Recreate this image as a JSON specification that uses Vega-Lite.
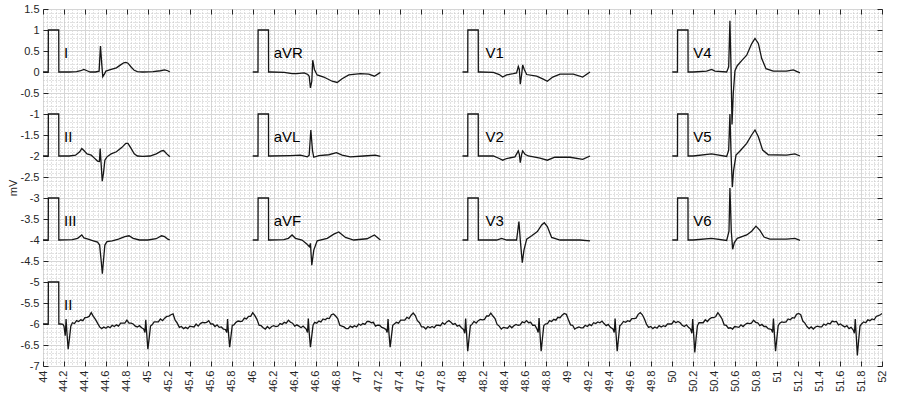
{
"$schema": "https://vega.github.io/schema/vega-lite/v6.json",
"autosize": {"type": "none"},
"padding": {"left": 43, "top": 9, "right": 18, "bottom": 31},
"width": 839,
"height": 357,
"background": "white",
"config": {"font": "Liberation Sans", "view": {"stroke": "#262626", "strokeWidth": 1}},
"datasets": {
"lab": [
{"x":44.2,"y":0.34,"t":"I"},{"x":44.2,"y":-1.66,"t":"II"},{"x":44.2,"y":-3.66,"t":"III"},
{"x":46.2,"y":0.34,"t":"aVR"},{"x":46.2,"y":-1.66,"t":"aVL"},{"x":46.2,"y":-3.66,"t":"aVF"},
{"x":48.22,"y":0.34,"t":"V1"},{"x":48.22,"y":-1.66,"t":"V2"},{"x":48.22,"y":-3.66,"t":"V3"},
{"x":50.2,"y":0.34,"t":"V4"},{"x":50.2,"y":-1.66,"t":"V5"},{"x":50.2,"y":-3.66,"t":"V6"},
{"x":44.2,"y":-5.66,"t":"II"}
],
"ecg": [
{"x":44,"y":0,"s":"I"},{"x":44.05,"y":0,"s":"I"},{"x":44.051,"y":1,"s":"I"},{"x":44.15,"y":1,"s":"I"},{"x":44.151,"y":0,"s":"I"},{"x":44.25,"y":0,"s":"I"},{"x":44.32,"y":0.01,"s":"I"},{"x":44.36,"y":0.03,"s":"I"},{"x":44.39,"y":0.06,"s":"I"},{"x":44.42,"y":0.03,"s":"I"},{"x":44.45,"y":0,"s":"I"},{"x":44.5,"y":0,"s":"I"},{"x":44.535,"y":0.02,"s":"I"},{"x":44.548,"y":0.62,"s":"I"},{"x":44.56,"y":0.2,"s":"I"},{"x":44.57,"y":-0.11,"s":"I"},{"x":44.585,"y":-0.05,"s":"I"},{"x":44.6,"y":0.02,"s":"I"},{"x":44.65,"y":0.06,"s":"I"},{"x":44.7,"y":0.1,"s":"I"},{"x":44.74,"y":0.17,"s":"I"},{"x":44.77,"y":0.22,"s":"I"},{"x":44.79,"y":0.23,"s":"I"},{"x":44.81,"y":0.21,"s":"I"},{"x":44.84,"y":0.12,"s":"I"},{"x":44.87,"y":0.04,"s":"I"},{"x":44.9,"y":0.01,"s":"I"},{"x":44.95,"y":0,"s":"I"},{"x":45.05,"y":0.01,"s":"I"},{"x":45.12,"y":0.03,"s":"I"},{"x":45.16,"y":0.05,"s":"I"},{"x":45.19,"y":0.03,"s":"I"},{"x":45.21,"y":0,"s":"I"},

{"x":44,"y":-2,"s":"II"},{"x":44.05,"y":-2,"s":"II"},{"x":44.051,"y":-1,"s":"II"},{"x":44.15,"y":-1,"s":"II"},{"x":44.151,"y":-2,"s":"II"},{"x":44.25,"y":-2,"s":"II"},{"x":44.31,"y":-1.98,"s":"II"},{"x":44.35,"y":-1.9,"s":"II"},{"x":44.37,"y":-1.82,"s":"II"},{"x":44.39,"y":-1.87,"s":"II"},{"x":44.42,"y":-1.95,"s":"II"},{"x":44.46,"y":-1.98,"s":"II"},{"x":44.49,"y":-2.05,"s":"II"},{"x":44.52,"y":-2.12,"s":"II"},{"x":44.538,"y":-2.13,"s":"II"},{"x":44.545,"y":-1.82,"s":"II"},{"x":44.552,"y":-2.1,"s":"II"},{"x":44.565,"y":-2.6,"s":"II"},{"x":44.577,"y":-2.4,"s":"II"},{"x":44.59,"y":-2.1,"s":"II"},{"x":44.61,"y":-2.02,"s":"II"},{"x":44.65,"y":-1.95,"s":"II"},{"x":44.7,"y":-1.9,"s":"II"},{"x":44.75,"y":-1.8,"s":"II"},{"x":44.79,"y":-1.7,"s":"II"},{"x":44.81,"y":-1.7,"s":"II"},{"x":44.84,"y":-1.82,"s":"II"},{"x":44.87,"y":-1.95,"s":"II"},{"x":44.9,"y":-2,"s":"II"},{"x":44.95,"y":-2.01,"s":"II"},{"x":45.02,"y":-2,"s":"II"},{"x":45.08,"y":-1.95,"s":"II"},{"x":45.13,"y":-1.88,"s":"II"},{"x":45.15,"y":-1.87,"s":"II"},{"x":45.18,"y":-1.95,"s":"II"},{"x":45.21,"y":-2.02,"s":"II"},

{"x":44,"y":-4,"s":"III"},{"x":44.05,"y":-4,"s":"III"},{"x":44.051,"y":-3,"s":"III"},{"x":44.15,"y":-3,"s":"III"},{"x":44.151,"y":-4,"s":"III"},{"x":44.28,"y":-3.99,"s":"III"},{"x":44.33,"y":-3.96,"s":"III"},{"x":44.37,"y":-3.88,"s":"III"},{"x":44.39,"y":-3.95,"s":"III"},{"x":44.43,"y":-3.98,"s":"III"},{"x":44.48,"y":-4.02,"s":"III"},{"x":44.52,"y":-4.05,"s":"III"},{"x":44.54,"y":-4.12,"s":"III"},{"x":44.555,"y":-4.5,"s":"III"},{"x":44.566,"y":-4.8,"s":"III"},{"x":44.578,"y":-4.45,"s":"III"},{"x":44.59,"y":-4.12,"s":"III"},{"x":44.61,"y":-4.04,"s":"III"},{"x":44.66,"y":-4.02,"s":"III"},{"x":44.72,"y":-3.98,"s":"III"},{"x":44.78,"y":-3.92,"s":"III"},{"x":44.82,"y":-3.9,"s":"III"},{"x":44.86,"y":-3.96,"s":"III"},{"x":44.92,"y":-4,"s":"III"},{"x":45,"y":-4,"s":"III"},{"x":45.08,"y":-3.97,"s":"III"},{"x":45.13,"y":-3.9,"s":"III"},{"x":45.16,"y":-3.92,"s":"III"},{"x":45.19,"y":-3.98,"s":"III"},{"x":45.21,"y":-4,"s":"III"},

{"x":46,"y":0,"s":"aVR"},{"x":46.05,"y":0,"s":"aVR"},{"x":46.051,"y":1,"s":"aVR"},{"x":46.15,"y":1,"s":"aVR"},{"x":46.151,"y":0,"s":"aVR"},{"x":46.17,"y":0,"s":"aVR"},{"x":46.3,"y":-0.01,"s":"aVR"},{"x":46.375,"y":-0.04,"s":"aVR"},{"x":46.42,"y":-0.04,"s":"aVR"},{"x":46.49,"y":-0.02,"s":"aVR"},{"x":46.525,"y":-0.06,"s":"aVR"},{"x":46.538,"y":-0.1,"s":"aVR"},{"x":46.55,"y":-0.38,"s":"aVR"},{"x":46.563,"y":-0.22,"s":"aVR"},{"x":46.572,"y":0.28,"s":"aVR"},{"x":46.588,"y":0.06,"s":"aVR"},{"x":46.614,"y":-0.07,"s":"aVR"},{"x":46.677,"y":-0.12,"s":"aVR"},{"x":46.757,"y":-0.22,"s":"aVR"},{"x":46.805,"y":-0.25,"s":"aVR"},{"x":46.852,"y":-0.16,"s":"aVR"},{"x":46.916,"y":-0.07,"s":"aVR"},{"x":47.027,"y":-0.04,"s":"aVR"},{"x":47.106,"y":-0.05,"s":"aVR"},{"x":47.16,"y":-0.1,"s":"aVR"},{"x":47.217,"y":-0.01,"s":"aVR"},

{"x":46,"y":-2,"s":"aVL"},{"x":46.05,"y":-2,"s":"aVL"},{"x":46.051,"y":-1,"s":"aVL"},{"x":46.15,"y":-1,"s":"aVL"},{"x":46.151,"y":-2,"s":"aVL"},{"x":46.17,"y":-2,"s":"aVL"},{"x":46.36,"y":-1.99,"s":"aVL"},{"x":46.455,"y":-1.98,"s":"aVL"},{"x":46.52,"y":-2.02,"s":"aVL"},{"x":46.538,"y":-1.98,"s":"aVL"},{"x":46.554,"y":-1.38,"s":"aVL"},{"x":46.57,"y":-1.88,"s":"aVL"},{"x":46.582,"y":-2.03,"s":"aVL"},{"x":46.63,"y":-1.99,"s":"aVL"},{"x":46.725,"y":-1.97,"s":"aVL"},{"x":46.798,"y":-1.92,"s":"aVL"},{"x":46.852,"y":-1.98,"s":"aVL"},{"x":46.93,"y":-2.02,"s":"aVL"},{"x":47.058,"y":-2,"s":"aVL"},{"x":47.169,"y":-1.98,"s":"aVL"},{"x":47.217,"y":-2.01,"s":"aVL"},

{"x":46,"y":-4,"s":"aVF"},{"x":46.05,"y":-4,"s":"aVF"},{"x":46.051,"y":-3,"s":"aVF"},{"x":46.15,"y":-3,"s":"aVF"},{"x":46.151,"y":-4,"s":"aVF"},{"x":46.17,"y":-4,"s":"aVF"},{"x":46.296,"y":-3.99,"s":"aVF"},{"x":46.34,"y":-3.96,"s":"aVF"},{"x":46.375,"y":-3.88,"s":"aVF"},{"x":46.407,"y":-3.96,"s":"aVF"},{"x":46.47,"y":-4,"s":"aVF"},{"x":46.518,"y":-4.1,"s":"aVF"},{"x":46.54,"y":-4.16,"s":"aVF"},{"x":46.55,"y":-4.08,"s":"aVF"},{"x":46.563,"y":-4.6,"s":"aVF"},{"x":46.582,"y":-4.24,"s":"aVF"},{"x":46.614,"y":-4.02,"s":"aVF"},{"x":46.71,"y":-3.96,"s":"aVF"},{"x":46.773,"y":-3.86,"s":"aVF"},{"x":46.82,"y":-3.81,"s":"aVF"},{"x":46.884,"y":-3.94,"s":"aVF"},{"x":46.963,"y":-4,"s":"aVF"},{"x":47.09,"y":-3.97,"s":"aVF"},{"x":47.16,"y":-3.88,"s":"aVF"},{"x":47.217,"y":-4,"s":"aVF"},

{"x":48,"y":0,"s":"V1"},{"x":48.05,"y":0,"s":"V1"},{"x":48.051,"y":1,"s":"V1"},{"x":48.15,"y":1,"s":"V1"},{"x":48.151,"y":0,"s":"V1"},{"x":48.167,"y":0,"s":"V1"},{"x":48.294,"y":-0.01,"s":"V1"},{"x":48.351,"y":-0.06,"s":"V1"},{"x":48.383,"y":-0.12,"s":"V1"},{"x":48.421,"y":-0.07,"s":"V1"},{"x":48.484,"y":-0.04,"s":"V1"},{"x":48.516,"y":-0.02,"s":"V1"},{"x":48.532,"y":0.13,"s":"V1"},{"x":48.542,"y":0.06,"s":"V1"},{"x":48.551,"y":-0.29,"s":"V1"},{"x":48.564,"y":-0.06,"s":"V1"},{"x":48.574,"y":0.17,"s":"V1"},{"x":48.589,"y":0.06,"s":"V1"},{"x":48.612,"y":-0.06,"s":"V1"},{"x":48.707,"y":-0.1,"s":"V1"},{"x":48.77,"y":-0.17,"s":"V1"},{"x":48.809,"y":-0.22,"s":"V1"},{"x":48.86,"y":-0.12,"s":"V1"},{"x":48.93,"y":-0.05,"s":"V1"},{"x":49.057,"y":-0.05,"s":"V1"},{"x":49.146,"y":-0.12,"s":"V1"},{"x":49.216,"y":0,"s":"V1"},

{"x":48,"y":-2,"s":"V2"},{"x":48.05,"y":-2,"s":"V2"},{"x":48.051,"y":-1,"s":"V2"},{"x":48.15,"y":-1,"s":"V2"},{"x":48.151,"y":-2,"s":"V2"},{"x":48.167,"y":-2,"s":"V2"},{"x":48.294,"y":-2,"s":"V2"},{"x":48.351,"y":-2.06,"s":"V2"},{"x":48.383,"y":-2.1,"s":"V2"},{"x":48.421,"y":-2.06,"s":"V2"},{"x":48.5,"y":-2.02,"s":"V2"},{"x":48.532,"y":-1.88,"s":"V2"},{"x":48.542,"y":-1.96,"s":"V2"},{"x":48.551,"y":-2.16,"s":"V2"},{"x":48.564,"y":-1.96,"s":"V2"},{"x":48.574,"y":-1.88,"s":"V2"},{"x":48.596,"y":-1.96,"s":"V2"},{"x":48.628,"y":-2,"s":"V2"},{"x":48.739,"y":-2.05,"s":"V2"},{"x":48.809,"y":-2.1,"s":"V2"},{"x":48.88,"y":-2.03,"s":"V2"},{"x":49.025,"y":-2.03,"s":"V2"},{"x":49.146,"y":-2.08,"s":"V2"},{"x":49.216,"y":-2,"s":"V2"},

{"x":48,"y":-4,"s":"V3"},{"x":48.05,"y":-4,"s":"V3"},{"x":48.051,"y":-3,"s":"V3"},{"x":48.15,"y":-3,"s":"V3"},{"x":48.151,"y":-4,"s":"V3"},{"x":48.167,"y":-4,"s":"V3"},{"x":48.326,"y":-4,"s":"V3"},{"x":48.373,"y":-3.96,"s":"V3"},{"x":48.421,"y":-4,"s":"V3"},{"x":48.516,"y":-4,"s":"V3"},{"x":48.538,"y":-3.56,"s":"V3"},{"x":48.551,"y":-4,"s":"V3"},{"x":48.57,"y":-4.54,"s":"V3"},{"x":48.586,"y":-4.24,"s":"V3"},{"x":48.612,"y":-3.98,"s":"V3"},{"x":48.66,"y":-3.9,"s":"V3"},{"x":48.714,"y":-3.8,"s":"V3"},{"x":48.755,"y":-3.64,"s":"V3"},{"x":48.78,"y":-3.59,"s":"V3"},{"x":48.809,"y":-3.68,"s":"V3"},{"x":48.85,"y":-3.94,"s":"V3"},{"x":48.93,"y":-4,"s":"V3"},{"x":49.12,"y":-4,"s":"V3"},{"x":49.216,"y":-4.02,"s":"V3"},

{"x":50,"y":0,"s":"V4"},{"x":50.05,"y":0,"s":"V4"},{"x":50.051,"y":1,"s":"V4"},{"x":50.15,"y":1,"s":"V4"},{"x":50.151,"y":0,"s":"V4"},{"x":50.2,"y":0,"s":"V4"},{"x":50.328,"y":0.02,"s":"V4"},{"x":50.375,"y":0.06,"s":"V4"},{"x":50.407,"y":0.02,"s":"V4"},{"x":50.519,"y":0,"s":"V4"},{"x":50.538,"y":0.12,"s":"V4"},{"x":50.55,"y":1.22,"s":"V4"},{"x":50.56,"y":0.12,"s":"V4"},{"x":50.57,"y":-1.25,"s":"V4"},{"x":50.582,"y":-0.5,"s":"V4"},{"x":50.598,"y":0.03,"s":"V4"},{"x":50.62,"y":0.15,"s":"V4"},{"x":50.662,"y":0.27,"s":"V4"},{"x":50.71,"y":0.4,"s":"V4"},{"x":50.757,"y":0.67,"s":"V4"},{"x":50.789,"y":0.8,"s":"V4"},{"x":50.821,"y":0.68,"s":"V4"},{"x":50.853,"y":0.32,"s":"V4"},{"x":50.894,"y":0.08,"s":"V4"},{"x":50.963,"y":0.02,"s":"V4"},{"x":51.09,"y":0.02,"s":"V4"},{"x":51.154,"y":0.05,"s":"V4"},{"x":51.218,"y":-0.02,"s":"V4"},

{"x":50,"y":-2,"s":"V5"},{"x":50.05,"y":-2,"s":"V5"},{"x":50.051,"y":-1,"s":"V5"},{"x":50.15,"y":-1,"s":"V5"},{"x":50.151,"y":-2,"s":"V5"},{"x":50.2,"y":-2,"s":"V5"},{"x":50.375,"y":-1.95,"s":"V5"},{"x":50.519,"y":-2.01,"s":"V5"},{"x":50.538,"y":-1.86,"s":"V5"},{"x":50.55,"y":-1,"s":"V5"},{"x":50.56,"y":-1.9,"s":"V5"},{"x":50.573,"y":-2.74,"s":"V5"},{"x":50.585,"y":-2.34,"s":"V5"},{"x":50.608,"y":-1.98,"s":"V5"},{"x":50.646,"y":-1.88,"s":"V5"},{"x":50.71,"y":-1.7,"s":"V5"},{"x":50.757,"y":-1.5,"s":"V5"},{"x":50.789,"y":-1.38,"s":"V5"},{"x":50.821,"y":-1.54,"s":"V5"},{"x":50.862,"y":-1.86,"s":"V5"},{"x":50.916,"y":-1.97,"s":"V5"},{"x":51.09,"y":-1.98,"s":"V5"},{"x":51.17,"y":-1.95,"s":"V5"},{"x":51.218,"y":-2,"s":"V5"},

{"x":50,"y":-4,"s":"V6"},{"x":50.05,"y":-4,"s":"V6"},{"x":50.051,"y":-3,"s":"V6"},{"x":50.15,"y":-3,"s":"V6"},{"x":50.151,"y":-4,"s":"V6"},{"x":50.2,"y":-4,"s":"V6"},{"x":50.375,"y":-3.96,"s":"V6"},{"x":50.519,"y":-4.01,"s":"V6"},{"x":50.541,"y":-3.79,"s":"V6"},{"x":50.55,"y":-2.76,"s":"V6"},{"x":50.563,"y":-3.79,"s":"V6"},{"x":50.576,"y":-4.22,"s":"V6"},{"x":50.592,"y":-4.06,"s":"V6"},{"x":50.62,"y":-3.96,"s":"V6"},{"x":50.71,"y":-3.88,"s":"V6"},{"x":50.757,"y":-3.79,"s":"V6"},{"x":50.798,"y":-3.67,"s":"V6"},{"x":50.836,"y":-3.77,"s":"V6"},{"x":50.875,"y":-3.93,"s":"V6"},{"x":50.93,"y":-3.98,"s":"V6"},{"x":51.09,"y":-3.98,"s":"V6"},{"x":51.17,"y":-3.96,"s":"V6"},{"x":51.218,"y":-4.01,"s":"V6"},

{"x":44,"y":-6,"s":"R"},{"x":44.05,"y":-6,"s":"R"},{"x":44.051,"y":-5,"s":"R"},{"x":44.15,"y":-5,"s":"R"},{"x":44.151,"y":-6,"s":"R"},{"x":44.17,"y":-6,"s":"R"},{"x":44.19,"y":-6.01,"s":"R"},{"x":44.2,"y":-6.05,"s":"R"},{"x":44.212,"y":-6.28,"s":"R"},{"x":44.22,"y":-5.88,"s":"R"},{"x":44.228,"y":-6.2,"s":"R"},{"x":44.24,"y":-6.6,"s":"R"},{"x":44.252,"y":-6.35,"s":"R"},{"x":44.265,"y":-6.05,"s":"R"},
{"x":44.28,"y":-5.97,"s":"R"},{"x":44.3,"y":-5.99,"s":"R"},{"x":44.32,"y":-5.92,"s":"R"},{"x":44.34,"y":-5.94,"s":"R"},{"x":44.36,"y":-5.9,"s":"R"},{"x":44.38,"y":-5.92,"s":"R"},{"x":44.4,"y":-5.85,"s":"R"},{"x":44.42,"y":-5.84,"s":"R"},{"x":44.44,"y":-5.82,"s":"R"},{"x":44.46,"y":-5.73,"s":"R"},{"x":44.48,"y":-5.82,"s":"R"},{"x":44.5,"y":-5.89,"s":"R"},{"x":44.52,"y":-5.98,"s":"R"},{"x":44.54,"y":-6.07,"s":"R"},{"x":44.56,"y":-6.11,"s":"R"},{"x":44.58,"y":-6.07,"s":"R"},{"x":44.6,"y":-6.1,"s":"R"},{"x":44.62,"y":-6.06,"s":"R"},{"x":44.64,"y":-6.09,"s":"R"},{"x":44.66,"y":-6.03,"s":"R"},{"x":44.68,"y":-6.06,"s":"R"},{"x":44.7,"y":-6.02,"s":"R"},{"x":44.72,"y":-6.05,"s":"R"},{"x":44.74,"y":-5.98,"s":"R"},{"x":44.76,"y":-5.98,"s":"R"},{"x":44.78,"y":-5.98,"s":"R"},{"x":44.8,"y":-5.91,"s":"R"},{"x":44.82,"y":-5.98,"s":"R"},{"x":44.84,"y":-5.98,"s":"R"},{"x":44.86,"y":-6,"s":"R"},{"x":44.88,"y":-6.05,"s":"R"},{"x":44.9,"y":-6.07,"s":"R"},{"x":44.92,"y":-6.04,"s":"R"},{"x":44.94,"y":-6.09,"s":"R"},
{"x":44.96,"y":-6.12,"s":"R"},{"x":44.972,"y":-6.2,"s":"R"},{"x":44.98,"y":-5.9,"s":"R"},{"x":44.988,"y":-6.2,"s":"R"},{"x":45,"y":-6.6,"s":"R"},{"x":45.012,"y":-6.35,"s":"R"},{"x":45.025,"y":-6.05,"s":"R"},
{"x":45.04,"y":-6.02,"s":"R"},{"x":45.06,"y":-5.95,"s":"R"},{"x":45.08,"y":-5.95,"s":"R"},{"x":45.1,"y":-5.95,"s":"R"},{"x":45.12,"y":-5.88,"s":"R"},{"x":45.14,"y":-5.92,"s":"R"},{"x":45.16,"y":-5.86,"s":"R"},{"x":45.18,"y":-5.82,"s":"R"},{"x":45.2,"y":-5.81,"s":"R"},{"x":45.22,"y":-5.78,"s":"R"},{"x":45.24,"y":-5.76,"s":"R"},{"x":45.26,"y":-5.91,"s":"R"},{"x":45.28,"y":-5.98,"s":"R"},{"x":45.3,"y":-6.08,"s":"R"},{"x":45.32,"y":-6.06,"s":"R"},{"x":45.34,"y":-6.11,"s":"R"},{"x":45.36,"y":-6.08,"s":"R"},{"x":45.38,"y":-6.11,"s":"R"},{"x":45.4,"y":-6.05,"s":"R"},{"x":45.42,"y":-6.06,"s":"R"},{"x":45.44,"y":-6.07,"s":"R"},{"x":45.46,"y":-6,"s":"R"},{"x":45.48,"y":-6.05,"s":"R"},{"x":45.5,"y":-5.99,"s":"R"},{"x":45.52,"y":-5.96,"s":"R"},{"x":45.54,"y":-5.97,"s":"R"},{"x":45.56,"y":-5.96,"s":"R"},{"x":45.58,"y":-5.92,"s":"R"},{"x":45.6,"y":-6,"s":"R"},{"x":45.62,"y":-6,"s":"R"},{"x":45.64,"y":-6.06,"s":"R"},{"x":45.66,"y":-6.02,"s":"R"},{"x":45.68,"y":-6.08,"s":"R"},{"x":45.7,"y":-6.07,"s":"R"},{"x":45.72,"y":-6.12,"s":"R"},
{"x":45.74,"y":-6.13,"s":"R"},{"x":45.752,"y":-6.2,"s":"R"},{"x":45.76,"y":-5.88,"s":"R"},{"x":45.768,"y":-6.2,"s":"R"},{"x":45.78,"y":-6.55,"s":"R"},{"x":45.792,"y":-6.3,"s":"R"},{"x":45.805,"y":-6.03,"s":"R"},
{"x":45.82,"y":-6.02,"s":"R"},{"x":45.84,"y":-5.96,"s":"R"},{"x":45.86,"y":-5.93,"s":"R"},{"x":45.88,"y":-5.94,"s":"R"},{"x":45.9,"y":-5.93,"s":"R"},{"x":45.92,"y":-5.86,"s":"R"},{"x":45.94,"y":-5.88,"s":"R"},{"x":45.96,"y":-5.82,"s":"R"},{"x":45.98,"y":-5.82,"s":"R"},{"x":46,"y":-5.73,"s":"R"},{"x":46.02,"y":-5.8,"s":"R"},{"x":46.04,"y":-5.89,"s":"R"},{"x":46.06,"y":-6.03,"s":"R"},{"x":46.08,"y":-6.04,"s":"R"},{"x":46.1,"y":-6.09,"s":"R"},{"x":46.12,"y":-6.12,"s":"R"},{"x":46.14,"y":-6.06,"s":"R"},{"x":46.16,"y":-6.11,"s":"R"},{"x":46.18,"y":-6.06,"s":"R"},{"x":46.2,"y":-6.04,"s":"R"},{"x":46.22,"y":-6.06,"s":"R"},{"x":46.24,"y":-6.05,"s":"R"},{"x":46.26,"y":-5.99,"s":"R"},{"x":46.28,"y":-6.01,"s":"R"},{"x":46.3,"y":-5.96,"s":"R"},{"x":46.32,"y":-5.98,"s":"R"},{"x":46.34,"y":-5.91,"s":"R"},{"x":46.36,"y":-5.96,"s":"R"},{"x":46.38,"y":-5.98,"s":"R"},{"x":46.4,"y":-6.05,"s":"R"},{"x":46.42,"y":-6.02,"s":"R"},{"x":46.44,"y":-6.05,"s":"R"},{"x":46.46,"y":-6.09,"s":"R"},{"x":46.48,"y":-6.05,"s":"R"},
{"x":46.51,"y":-6.12,"s":"R"},{"x":46.522,"y":-6.2,"s":"R"},{"x":46.53,"y":-5.87,"s":"R"},{"x":46.538,"y":-6.2,"s":"R"},{"x":46.55,"y":-6.55,"s":"R"},{"x":46.562,"y":-6.3,"s":"R"},{"x":46.575,"y":-6.03,"s":"R"},
{"x":46.59,"y":-5.96,"s":"R"},{"x":46.61,"y":-5.98,"s":"R"},{"x":46.63,"y":-5.93,"s":"R"},{"x":46.65,"y":-5.95,"s":"R"},{"x":46.67,"y":-5.88,"s":"R"},{"x":46.69,"y":-5.9,"s":"R"},{"x":46.71,"y":-5.86,"s":"R"},{"x":46.73,"y":-5.87,"s":"R"},{"x":46.75,"y":-5.78,"s":"R"},{"x":46.77,"y":-5.76,"s":"R"},{"x":46.79,"y":-5.81,"s":"R"},{"x":46.81,"y":-5.87,"s":"R"},{"x":46.83,"y":-6.03,"s":"R"},{"x":46.85,"y":-6.05,"s":"R"},{"x":46.87,"y":-6.07,"s":"R"},{"x":46.89,"y":-6.11,"s":"R"},{"x":46.91,"y":-6.11,"s":"R"},{"x":46.93,"y":-6.05,"s":"R"},{"x":46.95,"y":-6.08,"s":"R"},{"x":46.97,"y":-6.04,"s":"R"},{"x":46.99,"y":-6.07,"s":"R"},{"x":47.01,"y":-6,"s":"R"},{"x":47.03,"y":-6.03,"s":"R"},{"x":47.05,"y":-5.99,"s":"R"},{"x":47.07,"y":-6.01,"s":"R"},{"x":47.09,"y":-5.94,"s":"R"},{"x":47.11,"y":-5.94,"s":"R"},{"x":47.13,"y":-5.97,"s":"R"},{"x":47.15,"y":-5.96,"s":"R"},{"x":47.17,"y":-6.05,"s":"R"},{"x":47.19,"y":-6.03,"s":"R"},{"x":47.21,"y":-6.03,"s":"R"},{"x":47.23,"y":-6.08,"s":"R"},{"x":47.25,"y":-6.1,"s":"R"},
{"x":47.27,"y":-6.13,"s":"R"},{"x":47.282,"y":-6.2,"s":"R"},{"x":47.29,"y":-5.88,"s":"R"},{"x":47.298,"y":-6.2,"s":"R"},{"x":47.31,"y":-6.55,"s":"R"},{"x":47.322,"y":-6.3,"s":"R"},{"x":47.335,"y":-6.03,"s":"R"},
{"x":47.35,"y":-6,"s":"R"},{"x":47.37,"y":-5.96,"s":"R"},{"x":47.39,"y":-5.98,"s":"R"},{"x":47.41,"y":-5.91,"s":"R"},{"x":47.43,"y":-5.91,"s":"R"},{"x":47.45,"y":-5.91,"s":"R"},{"x":47.47,"y":-5.84,"s":"R"},{"x":47.49,"y":-5.87,"s":"R"},{"x":47.51,"y":-5.79,"s":"R"},{"x":47.53,"y":-5.74,"s":"R"},{"x":47.55,"y":-5.8,"s":"R"},{"x":47.57,"y":-5.92,"s":"R"},{"x":47.59,"y":-5.97,"s":"R"},{"x":47.61,"y":-6.07,"s":"R"},{"x":47.63,"y":-6.07,"s":"R"},{"x":47.65,"y":-6.12,"s":"R"},{"x":47.67,"y":-6.06,"s":"R"},{"x":47.69,"y":-6.09,"s":"R"},{"x":47.71,"y":-6.06,"s":"R"},{"x":47.73,"y":-6.09,"s":"R"},{"x":47.75,"y":-6.03,"s":"R"},{"x":47.77,"y":-6.03,"s":"R"},{"x":47.79,"y":-6.04,"s":"R"},{"x":47.81,"y":-5.97,"s":"R"},{"x":47.83,"y":-6.01,"s":"R"},{"x":47.85,"y":-5.95,"s":"R"},{"x":47.87,"y":-5.92,"s":"R"},{"x":47.89,"y":-5.96,"s":"R"},{"x":47.91,"y":-6.01,"s":"R"},{"x":47.93,"y":-5.99,"s":"R"},{"x":47.95,"y":-6.05,"s":"R"},{"x":47.97,"y":-6.03,"s":"R"},{"x":47.99,"y":-6.09,"s":"R"},
{"x":48.01,"y":-6.13,"s":"R"},{"x":48.022,"y":-6.22,"s":"R"},{"x":48.03,"y":-5.87,"s":"R"},{"x":48.038,"y":-6.2,"s":"R"},{"x":48.05,"y":-6.65,"s":"R"},{"x":48.062,"y":-6.35,"s":"R"},{"x":48.075,"y":-6.04,"s":"R"},
{"x":48.09,"y":-6.01,"s":"R"},{"x":48.11,"y":-5.94,"s":"R"},{"x":48.13,"y":-5.98,"s":"R"},{"x":48.15,"y":-5.92,"s":"R"},{"x":48.17,"y":-5.89,"s":"R"},{"x":48.19,"y":-5.9,"s":"R"},{"x":48.21,"y":-5.89,"s":"R"},{"x":48.23,"y":-5.81,"s":"R"},{"x":48.25,"y":-5.81,"s":"R"},{"x":48.27,"y":-5.74,"s":"R"},{"x":48.29,"y":-5.81,"s":"R"},{"x":48.31,"y":-5.87,"s":"R"},{"x":48.33,"y":-6.01,"s":"R"},{"x":48.35,"y":-6.05,"s":"R"},{"x":48.37,"y":-6.12,"s":"R"},{"x":48.39,"y":-6.08,"s":"R"},{"x":48.41,"y":-6.09,"s":"R"},{"x":48.43,"y":-6.1,"s":"R"},{"x":48.45,"y":-6.04,"s":"R"},{"x":48.47,"y":-6.09,"s":"R"},{"x":48.49,"y":-6.04,"s":"R"},{"x":48.51,"y":-6.01,"s":"R"},{"x":48.53,"y":-6.03,"s":"R"},{"x":48.55,"y":-6.02,"s":"R"},{"x":48.57,"y":-5.95,"s":"R"},{"x":48.59,"y":-5.97,"s":"R"},{"x":48.61,"y":-5.92,"s":"R"},{"x":48.63,"y":-5.97,"s":"R"},{"x":48.65,"y":-5.96,"s":"R"},{"x":48.67,"y":-6.03,"s":"R"},{"x":48.69,"y":-6.03,"s":"R"},
{"x":48.71,"y":-6.12,"s":"R"},{"x":48.722,"y":-6.2,"s":"R"},{"x":48.73,"y":-5.86,"s":"R"},{"x":48.738,"y":-6.2,"s":"R"},{"x":48.75,"y":-6.65,"s":"R"},{"x":48.762,"y":-6.35,"s":"R"},{"x":48.775,"y":-6.04,"s":"R"},
{"x":48.79,"y":-6,"s":"R"},{"x":48.81,"y":-5.99,"s":"R"},{"x":48.83,"y":-5.92,"s":"R"},{"x":48.85,"y":-5.94,"s":"R"},{"x":48.87,"y":-5.89,"s":"R"},{"x":48.89,"y":-5.91,"s":"R"},{"x":48.91,"y":-5.84,"s":"R"},{"x":48.93,"y":-5.85,"s":"R"},{"x":48.95,"y":-5.79,"s":"R"},{"x":48.97,"y":-5.75,"s":"R"},{"x":48.99,"y":-5.77,"s":"R"},{"x":49.01,"y":-5.9,"s":"R"},{"x":49.03,"y":-6.02,"s":"R"},{"x":49.05,"y":-6.03,"s":"R"},{"x":49.07,"y":-6.12,"s":"R"},{"x":49.09,"y":-6.09,"s":"R"},{"x":49.11,"y":-6.07,"s":"R"},{"x":49.13,"y":-6.09,"s":"R"},{"x":49.15,"y":-6.09,"s":"R"},{"x":49.17,"y":-6.03,"s":"R"},{"x":49.19,"y":-6.06,"s":"R"},{"x":49.21,"y":-6.01,"s":"R"},{"x":49.23,"y":-6.04,"s":"R"},{"x":49.25,"y":-5.97,"s":"R"},{"x":49.27,"y":-5.99,"s":"R"},{"x":49.29,"y":-5.95,"s":"R"},{"x":49.31,"y":-5.97,"s":"R"},{"x":49.33,"y":-5.93,"s":"R"},{"x":49.35,"y":-5.99,"s":"R"},{"x":49.37,"y":-6.04,"s":"R"},{"x":49.39,"y":-6.01,"s":"R"},{"x":49.41,"y":-6.08,"s":"R"},
{"x":49.435,"y":-6.12,"s":"R"},{"x":49.447,"y":-6.2,"s":"R"},{"x":49.455,"y":-5.87,"s":"R"},{"x":49.463,"y":-6.2,"s":"R"},{"x":49.475,"y":-6.65,"s":"R"},{"x":49.487,"y":-6.35,"s":"R"},{"x":49.5,"y":-6.04,"s":"R"},
{"x":49.515,"y":-6.01,"s":"R"},{"x":49.535,"y":-5.94,"s":"R"},{"x":49.555,"y":-5.96,"s":"R"},{"x":49.575,"y":-5.92,"s":"R"},{"x":49.595,"y":-5.94,"s":"R"},{"x":49.615,"y":-5.87,"s":"R"},{"x":49.635,"y":-5.87,"s":"R"},{"x":49.655,"y":-5.86,"s":"R"},{"x":49.675,"y":-5.77,"s":"R"},{"x":49.695,"y":-5.73,"s":"R"},{"x":49.715,"y":-5.78,"s":"R"},{"x":49.735,"y":-5.88,"s":"R"},{"x":49.755,"y":-6.01,"s":"R"},{"x":49.775,"y":-6.08,"s":"R"},{"x":49.795,"y":-6.06,"s":"R"},{"x":49.815,"y":-6.11,"s":"R"},{"x":49.835,"y":-6.07,"s":"R"},{"x":49.855,"y":-6.1,"s":"R"},{"x":49.875,"y":-6.04,"s":"R"},{"x":49.895,"y":-6.07,"s":"R"},{"x":49.915,"y":-6.04,"s":"R"},{"x":49.935,"y":-6.06,"s":"R"},{"x":49.955,"y":-6,"s":"R"},{"x":49.975,"y":-6,"s":"R"},{"x":49.995,"y":-6,"s":"R"},{"x":50.015,"y":-5.93,"s":"R"},{"x":50.035,"y":-5.97,"s":"R"},{"x":50.055,"y":-5.94,"s":"R"},{"x":50.075,"y":-5.97,"s":"R"},{"x":50.095,"y":-6.03,"s":"R"},{"x":50.115,"y":-6.06,"s":"R"},{"x":50.135,"y":-6.02,"s":"R"},{"x":50.155,"y":-6.08,"s":"R"},
{"x":50.175,"y":-6.12,"s":"R"},{"x":50.187,"y":-6.22,"s":"R"},{"x":50.195,"y":-5.88,"s":"R"},{"x":50.203,"y":-6.2,"s":"R"},{"x":50.215,"y":-6.68,"s":"R"},{"x":50.227,"y":-6.35,"s":"R"},{"x":50.24,"y":-6.04,"s":"R"},
{"x":50.255,"y":-5.97,"s":"R"},{"x":50.275,"y":-5.97,"s":"R"},{"x":50.295,"y":-5.97,"s":"R"},{"x":50.315,"y":-5.9,"s":"R"},{"x":50.335,"y":-5.94,"s":"R"},{"x":50.355,"y":-5.88,"s":"R"},{"x":50.375,"y":-5.85,"s":"R"},{"x":50.395,"y":-5.85,"s":"R"},{"x":50.415,"y":-5.82,"s":"R"},{"x":50.435,"y":-5.73,"s":"R"},{"x":50.455,"y":-5.8,"s":"R"},{"x":50.475,"y":-5.88,"s":"R"},{"x":50.495,"y":-6.02,"s":"R"},{"x":50.515,"y":-6.03,"s":"R"},{"x":50.535,"y":-6.1,"s":"R"},{"x":50.555,"y":-6.09,"s":"R"},{"x":50.575,"y":-6.12,"s":"R"},{"x":50.595,"y":-6.06,"s":"R"},{"x":50.615,"y":-6.07,"s":"R"},{"x":50.635,"y":-6.08,"s":"R"},{"x":50.655,"y":-6.02,"s":"R"},{"x":50.675,"y":-6.06,"s":"R"},{"x":50.695,"y":-6.01,"s":"R"},{"x":50.715,"y":-5.98,"s":"R"},{"x":50.735,"y":-5.99,"s":"R"},{"x":50.755,"y":-5.98,"s":"R"},{"x":50.775,"y":-5.91,"s":"R"},{"x":50.795,"y":-5.96,"s":"R"},{"x":50.815,"y":-5.97,"s":"R"},{"x":50.835,"y":-6.04,"s":"R"},{"x":50.855,"y":-6.01,"s":"R"},{"x":50.875,"y":-6.06,"s":"R"},{"x":50.895,"y":-6.06,"s":"R"},{"x":50.915,"y":-6.11,"s":"R"},
{"x":50.945,"y":-6.13,"s":"R"},{"x":50.957,"y":-6.2,"s":"R"},{"x":50.965,"y":-5.87,"s":"R"},{"x":50.973,"y":-6.2,"s":"R"},{"x":50.985,"y":-6.65,"s":"R"},{"x":50.997,"y":-6.35,"s":"R"},{"x":51.01,"y":-6.04,"s":"R"},
{"x":51.025,"y":-5.98,"s":"R"},{"x":51.045,"y":-5.95,"s":"R"},{"x":51.065,"y":-5.96,"s":"R"},{"x":51.085,"y":-5.95,"s":"R"},{"x":51.105,"y":-5.88,"s":"R"},{"x":51.125,"y":-5.9,"s":"R"},{"x":51.145,"y":-5.85,"s":"R"},{"x":51.165,"y":-5.86,"s":"R"},{"x":51.185,"y":-5.77,"s":"R"},{"x":51.205,"y":-5.75,"s":"R"},{"x":51.225,"y":-5.78,"s":"R"},{"x":51.245,"y":-5.93,"s":"R"},{"x":51.265,"y":-5.98,"s":"R"},{"x":51.285,"y":-6.06,"s":"R"},{"x":51.305,"y":-6.11,"s":"R"},{"x":51.325,"y":-6.07,"s":"R"},{"x":51.345,"y":-6.12,"s":"R"},{"x":51.365,"y":-6.07,"s":"R"},{"x":51.385,"y":-6.05,"s":"R"},{"x":51.405,"y":-6.07,"s":"R"},{"x":51.425,"y":-6.07,"s":"R"},{"x":51.445,"y":-6,"s":"R"},{"x":51.465,"y":-6.03,"s":"R"},{"x":51.485,"y":-5.98,"s":"R"},{"x":51.505,"y":-6,"s":"R"},{"x":51.525,"y":-5.93,"s":"R"},{"x":51.545,"y":-5.95,"s":"R"},{"x":51.565,"y":-5.94,"s":"R"},{"x":51.585,"y":-6.02,"s":"R"},{"x":51.605,"y":-6,"s":"R"},{"x":51.625,"y":-6.04,"s":"R"},{"x":51.645,"y":-6.07,"s":"R"},{"x":51.665,"y":-6.04,"s":"R"},{"x":51.685,"y":-6.11,"s":"R"},{"x":51.705,"y":-6.08,"s":"R"},
{"x":51.725,"y":-6.14,"s":"R"},{"x":51.737,"y":-6.22,"s":"R"},{"x":51.745,"y":-5.88,"s":"R"},{"x":51.753,"y":-6.22,"s":"R"},{"x":51.765,"y":-6.75,"s":"R"},{"x":51.777,"y":-6.4,"s":"R"},{"x":51.79,"y":-6.05,"s":"R"},
{"x":51.805,"y":-6,"s":"R"},{"x":51.825,"y":-5.95,"s":"R"},{"x":51.845,"y":-5.97,"s":"R"},{"x":51.865,"y":-5.9,"s":"R"},{"x":51.885,"y":-5.92,"s":"R"},{"x":51.905,"y":-5.88,"s":"R"},{"x":51.925,"y":-5.9,"s":"R"},{"x":51.945,"y":-5.82,"s":"R"},{"x":51.965,"y":-5.8,"s":"R"},{"x":51.985,"y":-5.78,"s":"R"},{"x":52,"y":-5.75,"s":"R"}
]
},
"layer": [
{
"data": {"name": "ecg"},
"mark": {"type": "line", "color": "#161616", "strokeWidth": 1.3, "clip": true},
"encoding": {
"x": {"field": "x", "type": "quantitative", "scale": {"domain": [44, 52], "nice": false, "zero": false},
 "axis": {"values": [44,44.04,44.08,44.12,44.16,44.2,44.24,44.28,44.32,44.36,44.4,44.44,44.48,44.52,44.56,44.6,44.64,44.68,44.72,44.76,44.8,44.84,44.88,44.92,44.96,45,45.04,45.08,45.12,45.16,45.2,45.24,45.28,45.32,45.36,45.4,45.44,45.48,45.52,45.56,45.6,45.64,45.68,45.72,45.76,45.8,45.84,45.88,45.92,45.96,46,46.04,46.08,46.12,46.16,46.2,46.24,46.28,46.32,46.36,46.4,46.44,46.48,46.52,46.56,46.6,46.64,46.68,46.72,46.76,46.8,46.84,46.88,46.92,46.96,47,47.04,47.08,47.12,47.16,47.2,47.24,47.28,47.32,47.36,47.4,47.44,47.48,47.52,47.56,47.6,47.64,47.68,47.72,47.76,47.8,47.84,47.88,47.92,47.96,48,48.04,48.08,48.12,48.16,48.2,48.24,48.28,48.32,48.36,48.4,48.44,48.48,48.52,48.56,48.6,48.64,48.68,48.72,48.76,48.8,48.84,48.88,48.92,48.96,49,49.04,49.08,49.12,49.16,49.2,49.24,49.28,49.32,49.36,49.4,49.44,49.48,49.52,49.56,49.6,49.64,49.68,49.72,49.76,49.8,49.84,49.88,49.92,49.96,50,50.04,50.08,50.12,50.16,50.2,50.24,50.28,50.32,50.36,50.4,50.44,50.48,50.52,50.56,50.6,50.64,50.68,50.72,50.76,50.8,50.84,50.88,50.92,50.96,51,51.04,51.08,51.12,51.16,51.2,51.24,51.28,51.32,51.36,51.4,51.44,51.48,51.52,51.56,51.6,51.64,51.68,51.72,51.76,51.8,51.84,51.88,51.92,51.96,52],
  "grid": true, "gridDash": [1, 2], "gridColor": "#c4c4c4", "gridWidth": 1, "ticks": false, "labels": false, "domain": false, "title": null}},
"y": {"field": "y", "type": "quantitative", "scale": {"domain": [-7, 1.5], "nice": false, "zero": false},
 "axis": {"values": [-7,-6.9,-6.8,-6.7,-6.6,-6.5,-6.4,-6.3,-6.2,-6.1,-6,-5.9,-5.8,-5.7,-5.6,-5.5,-5.4,-5.3,-5.2,-5.1,-5,-4.9,-4.8,-4.7,-4.6,-4.5,-4.4,-4.3,-4.2,-4.1,-4,-3.9,-3.8,-3.7,-3.6,-3.5,-3.4,-3.3,-3.2,-3.1,-3,-2.9,-2.8,-2.7,-2.6,-2.5,-2.4,-2.3,-2.2,-2.1,-2,-1.9,-1.8,-1.7,-1.6,-1.5,-1.4,-1.3,-1.2,-1.1,-1,-0.9,-0.8,-0.7,-0.6,-0.5,-0.4,-0.3,-0.2,-0.1,0,0.1,0.2,0.3,0.4,0.5,0.6,0.7,0.8,0.9,1,1.1,1.2,1.3,1.4,1.5],
  "grid": true, "gridDash": [1, 2], "gridColor": "#c4c4c4", "gridWidth": 1, "ticks": false, "labels": false, "domain": false, "title": null}},
"detail": {"field": "s"}
}
},
{
"data": {"name": "lab"},
"mark": {"type": "text", "align": "left", "baseline": "alphabetic", "fontSize": 15, "font": "Liberation Sans", "color": "#000000"},
"encoding": {
"x": {"field": "x", "type": "quantitative",
 "axis": {"orient": "bottom", "values": [44,44.2,44.4,44.6,44.8,45,45.2,45.4,45.6,45.8,46,46.2,46.4,46.6,46.8,47,47.2,47.4,47.6,47.8,48,48.2,48.4,48.6,48.8,49,49.2,49.4,49.6,49.8,50,50.2,50.4,50.6,50.8,51,51.2,51.4,51.6,51.8,52],
  "grid": true, "gridColor": "#d6d6d6", "gridWidth": 1, "ticks": true, "tickSize": -5, "tickColor": "#262626", "tickWidth": 1,
  "labels": true, "labelAngle": 270, "labelPadding": 9, "labelFontSize": 11, "labelColor": "#262626", "labelFont": "Liberation Sans", "labelFlush": false, "labelOverlap": false, "labelExpr": "toString(datum.value)", "domain": false, "title": null}},
"y": {"field": "y", "type": "quantitative",
 "axis": {"orient": "left", "values": [-7,-6.5,-6,-5.5,-5,-4.5,-4,-3.5,-3,-2.5,-2,-1.5,-1,-0.5,0,0.5,1,1.5],
  "grid": true, "gridColor": "#d6d6d6", "gridWidth": 1, "ticks": true, "tickSize": -5, "tickColor": "#262626", "tickWidth": 1,
  "labels": true, "labelPadding": 9, "labelFontSize": 11, "labelColor": "#262626", "labelFont": "Liberation Sans", "labelFlush": false, "labelOverlap": false, "labelExpr": "toString(datum.value)", "domain": false,
  "title": "mV", "titleFontSize": 11, "titleFontWeight": "normal", "titleColor": "#262626", "titleFont": "Liberation Sans", "titlePadding": 2}},
"text": {"field": "t"}
}
},
{
"data": {"name": "lab"},
"mark": {"type": "point", "opacity": 0},
"encoding": {
"x": {"field": "x", "type": "quantitative",
 "axis": {"orient": "top", "values": [44,44.2,44.4,44.6,44.8,45,45.2,45.4,45.6,45.8,46,46.2,46.4,46.6,46.8,47,47.2,47.4,47.6,47.8,48,48.2,48.4,48.6,48.8,49,49.2,49.4,49.6,49.8,50,50.2,50.4,50.6,50.8,51,51.2,51.4,51.6,51.8,52],
  "grid": false, "ticks": true, "tickSize": -5, "tickColor": "#262626", "tickWidth": 1, "labels": false, "domain": false, "title": null}},
"y": {"field": "y", "type": "quantitative",
 "axis": {"orient": "right", "values": [-7,-6.5,-6,-5.5,-5,-4.5,-4,-3.5,-3,-2.5,-2,-1.5,-1,-0.5,0,0.5,1,1.5],
  "grid": false, "ticks": true, "tickSize": -5, "tickColor": "#262626", "tickWidth": 1, "labels": false, "domain": false, "title": null}}
}
}
],
"resolve": {"axis": {"x": "independent", "y": "independent"}}
}
